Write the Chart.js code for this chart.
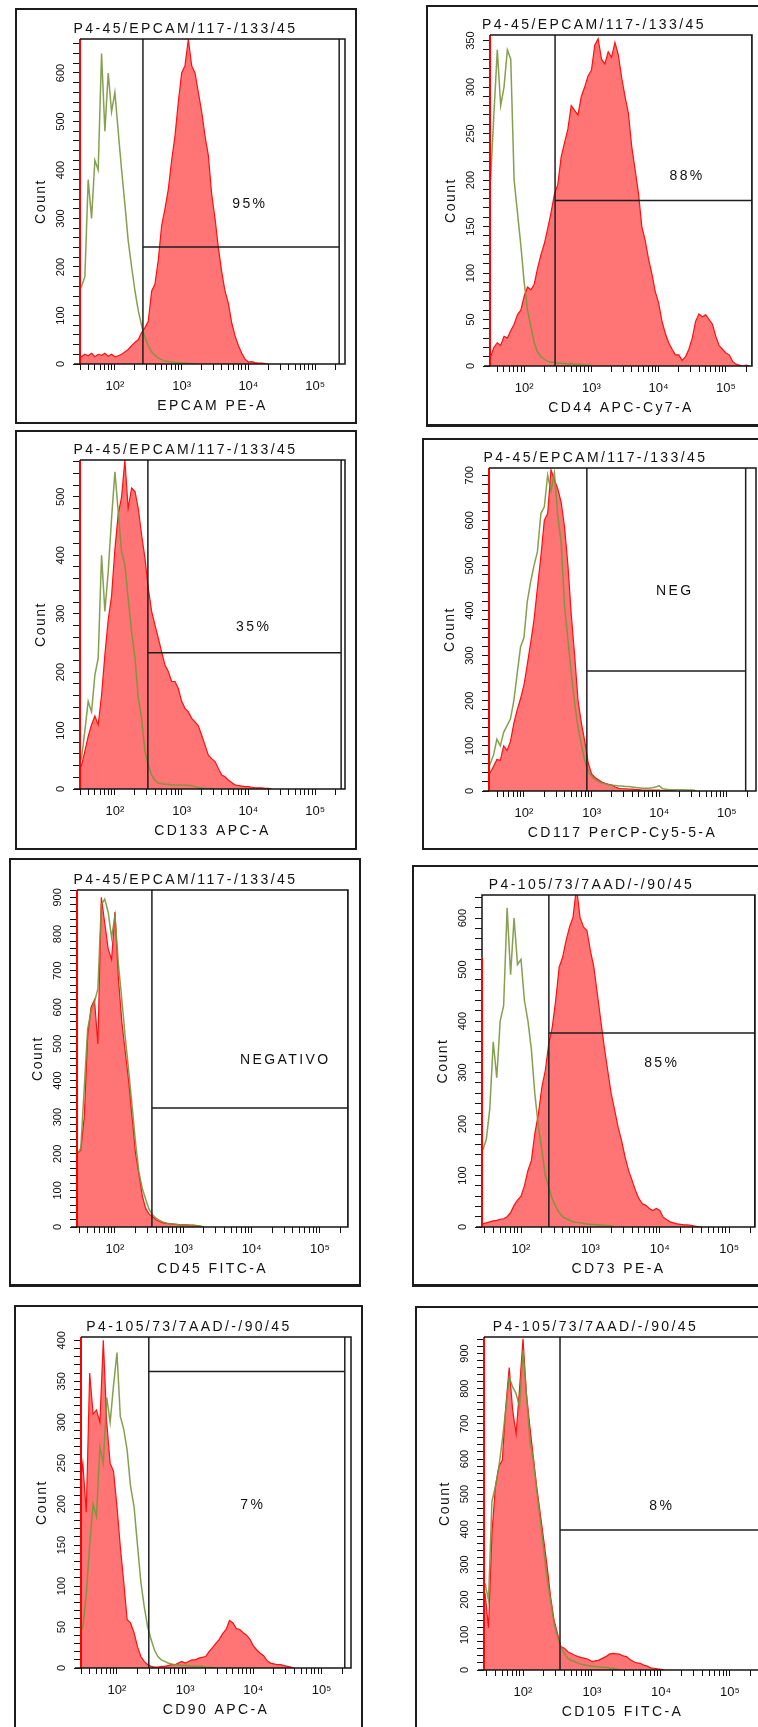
<!DOCTYPE html>
<html>
<head>
<meta charset="utf-8">
<title>Histogramas citometría P4</title>
<script src="https://cdn.jsdelivr.net/npm/chart.js"></script>
<style>
  html, body { margin: 0; padding: 0; background: #fff; }
  body { position: relative; width: 758px; height: 1727px; overflow: hidden; }
  canvas { position: absolute; }
  .frame { position: absolute; box-sizing: border-box; border: 2px solid #1c1c1c; pointer-events: none; }
</style>
</head>
<body>
<script>
// histogram bin centres, shared by all 8 panels (log spaced, 0.05 decade)
const binX = [28.2, 31.6, 35.5, 39.8, 44.7, 50.1, 56.2, 63.1, 70.8, 79.4, 89.1, 100, 112, 126, 141, 158, 178, 200, 224, 251,
  282, 316, 355, 398, 447, 501, 562, 631, 708, 794, 891, 1000, 1122, 1259, 1413, 1585, 1778, 1995, 2239, 2512,
  2818, 3162, 3548, 3981, 4467, 5012, 5623, 6310, 7079, 7943, 8913, 10000, 11220, 12589, 14125, 15849, 17783, 19953, 22387, 25119,
  28184, 31623, 35481, 39811, 44668, 50119, 56234, 63096, 70795, 79433, 89125, 100000, 112202, 125893, 141254, 158489, 177828, 199526, 223872, 251189, 281838];

// counts per bin: red = stained sample, green = control
const epcamRed = [20, 15, 20, 17, 22, 15, 20, 18, 22, 16, 20, 15, 17, 20, 25, 30, 38, 45, 50, 65, 75, 88, 150, 165, 215, 285, 320, 360, 420, 470, 540, 600, 615, 669, 615, 600, 560, 520, 470, 430, 350, 300, 240, 190, 150, 125, 85, 58, 38, 22, 10, 4, 5, 3, 2, 2, 1, 0];
const epcamGreen = [150, 160, 180, 380, 300, 420, 400, 640, 480, 600, 520, 560, 480, 400, 330, 255, 200, 150, 110, 80, 55, 38, 25, 18, 12, 9, 6, 5, 4, 3, 3, 2, 2, 1, 1, 0];
const cd44Red = [10, 10, 20, 25, 22, 32, 30, 38, 45, 55, 60, 75, 85, 82, 88, 105, 120, 132, 148, 165, 185, 195, 225, 240, 255, 280, 275, 270, 290, 300, 312, 318, 345, 352, 330, 325, 338, 332, 348, 335, 310, 290, 272, 236, 211, 186, 150, 135, 115, 99, 80, 68, 48, 35, 25, 18, 12, 12, 6, 10, 18, 30, 48, 56, 53, 55, 50, 45, 32, 22, 18, 14, 12, 5, 2, 1, 0, 1, 0];
const cd44Green = [200, 200, 272, 340, 280, 300, 340, 330, 200, 165, 130, 90, 60, 42, 25, 15, 10, 7, 5, 4, 4, 3, 3, 3, 2, 3, 2, 2, 2, 1, 1, 0];
const cd133Red = [30, 40, 65, 90, 110, 125, 110, 160, 230, 290, 330, 410, 470, 500, 563, 480, 515, 509, 480, 435, 395, 344, 304, 281, 258, 235, 212, 201, 184, 184, 172, 150, 138, 132, 121, 115, 108, 92, 75, 58, 52, 47, 35, 24, 21, 15, 11, 7, 6, 5, 4, 4, 3, 2, 2, 2, 1, 1, 0];
const cd133Green = [58, 52, 100, 150, 132, 195, 224, 400, 304, 372, 463, 543, 475, 406, 384, 326, 269, 224, 155, 121, 64, 41, 24, 15, 10, 9, 8, 8, 7, 7, 7, 7, 7, 6, 6, 4, 2, 2, 1, 1, 1, 0];
const cd117Red = [35, 40, 55, 70, 68, 100, 90, 110, 150, 180, 205, 235, 280, 330, 380, 450, 520, 600, 615, 712, 690, 670, 640, 585, 500, 390, 300, 200, 150, 110, 62, 38, 30, 25, 20, 17, 15, 13, 9, 6, 5, 5, 4, 4, 3, 3, 2, 2, 2, 2, 2, 2, 1, 1, 1, 1, 0];
const cd117Green = [40, 60, 80, 115, 100, 130, 145, 160, 200, 260, 320, 340, 420, 465, 500, 530, 615, 630, 700, 665, 705, 610, 550, 410, 335, 260, 195, 140, 102, 66, 44, 33, 26, 21, 18, 16, 14, 13, 12, 11, 11, 10, 10, 9, 8, 7, 6, 6, 6, 7, 9, 12, 5, 4, 3, 3, 3, 3, 3, 2, 2, 2, 0];
const cd45Red = [200, 210, 300, 520, 600, 620, 500, 900, 830, 760, 730, 860, 680, 560, 480, 400, 300, 200, 145, 85, 50, 35, 28, 20, 15, 12, 10, 9, 8, 7, 6, 6, 6, 5, 5, 4, 2, 0];
const cd45Green = [200, 215, 380, 540, 590, 615, 650, 880, 895, 860, 790, 850, 720, 620, 520, 430, 330, 230, 150, 105, 75, 48, 33, 24, 18, 14, 11, 9, 8, 7, 6, 5, 5, 4, 4, 3, 3, 0];
const cd73Red = [6, 8, 10, 12, 13, 15, 16, 20, 28, 42, 52, 60, 80, 110, 129, 181, 220, 272, 304, 356, 388, 440, 505, 524, 557, 583, 602, 660, 602, 583, 576, 537, 505, 453, 401, 350, 304, 259, 227, 194, 168, 136, 110, 91, 71, 55, 45, 42, 36, 32, 36, 32, 19, 14, 10, 8, 6, 5, 4, 4, 3, 2, 1, 0];
const cd73Green = [150, 170, 230, 360, 290, 400, 430, 620, 490, 600, 510, 520, 440, 400, 345, 260, 195, 150, 100, 78, 55, 40, 28, 20, 16, 13, 10, 9, 8, 7, 6, 5, 5, 4, 4, 3, 3, 2, 0];
const cd90Red = [220, 250, 190, 360, 310, 315, 300, 400, 300, 250, 240, 197, 148, 104, 59, 55, 43, 26, 14, 8, 4, 2, 1, 1, 2, 2, 3, 4, 4, 6, 8, 6, 8, 10, 10, 12, 13, 14, 20, 25, 30, 35, 42, 47, 58, 55, 48, 47, 43, 40, 35, 27, 22, 18, 15, 9, 6, 5, 4, 4, 3, 2, 1, 0];
const cd90Green = [40, 50, 90, 150, 200, 185, 270, 250, 330, 300, 345, 385, 307, 291, 266, 222, 197, 150, 105, 75, 50, 35, 22, 14, 10, 8, 6, 5, 4, 4, 3, 3, 3, 2, 2, 2, 2, 1, 1, 1, 0];
const cd105Red = [218, 120, 390, 521, 578, 597, 748, 860, 739, 672, 800, 942, 786, 691, 606, 521, 445, 369, 294, 208, 142, 104, 66, 62, 52, 47, 42, 38, 35, 33, 30, 24, 26, 28, 33, 38, 45, 47, 46, 45, 40, 38, 30, 24, 20, 19, 14, 11, 6, 5, 3, 2, 0];
const cd105Green = [246, 199, 480, 521, 578, 653, 739, 833, 805, 786, 748, 909, 786, 653, 597, 511, 426, 341, 256, 199, 133, 95, 66, 47, 33, 27, 24, 19, 16, 14, 12, 11, 10, 9, 8, 8, 6, 5, 3, 0];

// off-scale first bin (drawn on the left edge), gates and texts
const offscaleCount = [670, 356, 563, 716, 920, 524, 404, 947];
const gateLow = [263, 288, 312, 851, 347, 252, 293, 344];
const gateHigh = [229000, 245000, 245000, 190000, 257000, 234000, 219000, 265000];
const gateLevel = [241, 178, 233, 266, 325, 377, 362, 398];
const gateText = ['95%', '88%', '35%', 'NEG', 'NEGATIVO', '85%', '7%', '8%'];
const panelTitles = ['P4-45/EPCAM/117-/133/45', 'P4-45/EPCAM/117-/133/45', 'P4-45/EPCAM/117-/133/45', 'P4-45/EPCAM/117-/133/45',
  'P4-45/EPCAM/117-/133/45', 'P4-105/73/7AAD/-/90/45', 'P4-105/73/7AAD/-/90/45', 'P4-105/73/7AAD/-/90/45'];
const markerLabels = ['EPCAM PE-A', 'CD44 APC-Cy7-A', 'CD133 APC-A', 'CD117 PerCP-Cy5-5-A', 'CD45 FITC-A', 'CD73 PE-A', 'CD90 APC-A', 'CD105 FITC-A'];
const yStep = [100, 50, 100, 100, 100, 100, 50, 100];
const xTickValues = [30, 40, 50, 60, 70, 80, 90, 100, 200, 300, 400, 500, 600, 700, 800, 900, 1000, 2000, 3000, 4000, 5000, 6000, 7000, 8000, 9000,
  10000, 20000, 30000, 40000, 50000, 60000, 70000, 80000, 90000, 100000, 200000];
const decadeTicks = [100, 1000, 10000, 100000];
const decadeLabels = ['10²', '10³', '10⁴', '10⁵'];

// page layout: frame box and plot box in page pixels, axis ranges
const panels = [
  { frame: [15, 8, 357, 424], plot: [80, 39, 345, 364], xMin: 30, xMax: 280000, yMax: 670, textAt: [10500, 330], red: epcamRed, green: epcamGreen },
  { frame: [426, 5, 775, 427], plot: [490, 35, 752, 366], xMin: 31, xMax: 245000, yMax: 356, textAt: [26500, 204], red: cd44Red, green: cd44Green, thick: true },
  { frame: [15, 430, 357, 850], plot: [80, 460, 345, 789], xMin: 30, xMax: 280000, yMax: 563, textAt: [12000, 277], red: cd133Red, green: cd133Green },
  { frame: [422, 438, 775, 850], plot: [489, 468, 756, 791], xMin: 30.4, xMax: 270000, yMax: 716, textAt: [17000, 443], red: cd117Red, green: cd117Green },
  { frame: [9, 858, 361, 1287], plot: [77, 890, 348, 1227], xMin: 27.8, xMax: 257000, yMax: 920, textAt: [31000, 455], red: cd45Red, green: cd45Green, thick: true },
  { frame: [412, 865, 775, 1287], plot: [482, 895, 755, 1227], xMin: 27.4, xMax: 236000, yMax: 645, textAt: [10700, 318], red: cd73Red, green: cd73Green, thick: true },
  { frame: [14, 1305, 363, 1740], plot: [81, 1337, 351, 1668], xMin: 29.7, xMax: 270000, yMax: 404, textAt: [9800, 199], red: cd90Red, green: cd90Green },
  { frame: [415, 1306, 775, 1740], plot: [484, 1337, 761, 1670], xMin: 27.2, xMax: 282000, yMax: 947, textAt: [10300, 466], red: cd105Red, green: cd105Green }
];

const FONT = '"Liberation Sans", Arial, sans-serif';

// plot box (drawn over the fill so the axis line stays black)
const plotBox = {
  id: 'plotBox',
  afterDatasetsDraw(chart, args, opts) {
    const { ctx, chartArea: a, scales } = chart;
    const edgeTop = Math.max(a.top, scales.y.getPixelForValue(opts.edge));
    ctx.save();
    ctx.strokeStyle = '#151515';
    ctx.lineWidth = 1.5;
    ctx.beginPath();
    ctx.moveTo(a.left, edgeTop);
    ctx.lineTo(a.left, a.top);
    ctx.lineTo(a.right, a.top);
    ctx.lineTo(a.right, a.bottom);
    ctx.lineTo(a.left - 6, a.bottom);
    ctx.stroke();
    ctx.restore();
  }
};

// titles, axis names and gate percentage
const panelText = {
  id: 'panelText',
  afterDraw(chart, args, opts) {
    const { ctx, chartArea: a, scales } = chart;
    const cx = (a.left + a.right) / 2;
    ctx.save();
    ctx.fillStyle = '#111';
    ctx.font = '14px ' + FONT;
    ctx.letterSpacing = '2.4px';
    ctx.textAlign = 'center';
    ctx.textBaseline = 'middle';
    ctx.fillText(opts.title, cx - 27, a.top - 10);
    ctx.fillText(opts.xTitle, cx, a.bottom + 42);
    ctx.fillText(opts.gate, scales.x.getPixelForValue(opts.at[0]), scales.y.getPixelForValue(opts.at[1]));
    ctx.letterSpacing = '1.5px';
    ctx.translate(a.left - 39, (a.top + a.bottom) / 2);
    ctx.rotate(-Math.PI / 2);
    ctx.fillText('Count', 0, 0);
    ctx.restore();
  }
};

function gateLine(points) {
  return { data: points, borderColor: '#1e1e1e', borderWidth: 1.5, pointRadius: 0, fill: false, order: 0 };
}

panels.forEach((p, i) => {
  const [fl, ft, fr, fb] = p.frame;
  const [pl, pt, pr, pb] = p.plot;
  const w = fr - fl, h = fb - ft;

  const canvas = document.createElement('canvas');
  canvas.width = w;
  canvas.height = h;
  canvas.style.left = fl + 'px';
  canvas.style.top = ft + 'px';
  document.body.appendChild(canvas);

  const frame = document.createElement('div');
  frame.className = 'frame';
  Object.assign(frame.style, { left: fl + 'px', top: ft + 'px', width: w + 'px', height: h + 'px' });
  if (p.thick) frame.style.borderBottomWidth = '3px';
  document.body.appendChild(frame);

  const step = yStep[i];

  new Chart(canvas, {
    type: 'line',
    data: {
      labels: binX,
      datasets: [
        gateLine([{ x: gateLow[i], y: 0 }, { x: gateLow[i], y: p.yMax }]),
        gateLine([{ x: gateLow[i], y: gateLevel[i] }, { x: gateHigh[i], y: gateLevel[i] }]),
        gateLine([{ x: gateHigh[i], y: 0 }, { x: gateHigh[i], y: p.yMax }]),
        {
          data: [{ x: p.xMin, y: 0 }, { x: p.xMin, y: offscaleCount[i] }],
          borderColor: '#ff0000', borderWidth: 2, pointRadius: 0, fill: false, clip: 4, order: 1
        },
        {
          data: p.green,
          borderColor: 'rgba(120, 150, 60, 0.9)', borderWidth: 1.5, pointRadius: 0, fill: false, order: 2
        },
        {
          data: p.red,
          borderColor: '#ff1010', backgroundColor: 'rgba(255, 86, 86, 0.82)',
          borderWidth: 1.2, pointRadius: 0, fill: 'origin', order: 3
        }
      ]
    },
    options: {
      responsive: false,
      animation: false,
      events: [],
      layout: { autoPadding: false, padding: { top: pt - ft, right: fr - pr, bottom: 0, left: 0 } },
      elements: { line: { tension: 0 } },
      scales: {
        x: {
          type: 'logarithmic',
          min: p.xMin,
          max: p.xMax,
          afterBuildTicks: s => { s.ticks = xTickValues.filter(v => v >= s.min && v <= s.max).map(v => ({ value: v })); },
          afterFit: s => { s.height = fb - pb; },
          border: { display: false },
          grid: { drawOnChartArea: false, tickLength: 6, color: '#111', lineWidth: 1 },
          ticks: {
            autoSkip: false, minRotation: 0, maxRotation: 0, padding: 9, color: '#111',
            font: { size: 13, family: FONT },
            callback: v => { const k = decadeTicks.indexOf(v); return k >= 0 ? decadeLabels[k] : ''; }
          }
        },
        y: {
          min: 0,
          max: p.yMax,
          afterBuildTicks: s => {
            const t = [];
            for (let v = 0; v <= p.yMax; v += step / 5) t.push({ value: v });
            s.ticks = t;
          },
          afterFit: s => { s.width = pl - fl; },
          border: { display: false },
          grid: { drawOnChartArea: false, tickLength: 7, color: '#111', lineWidth: 1 },
          ticks: {
            autoSkip: false, minRotation: 90, maxRotation: 90, crossAlign: 'center', padding: 3, color: '#111',
            font: { size: 11, family: FONT },
            callback: v => (v % step === 0 ? String(v) : '')
          }
        }
      },
      plugins: {
        legend: { display: false },
        tooltip: { enabled: false },
        plotBox: { edge: offscaleCount[i] },
        panelText: { title: panelTitles[i], xTitle: markerLabels[i], gate: gateText[i], at: p.textAt }
      }
    },
    plugins: [plotBox, panelText]
  });
});
</script>
</body>
</html>
